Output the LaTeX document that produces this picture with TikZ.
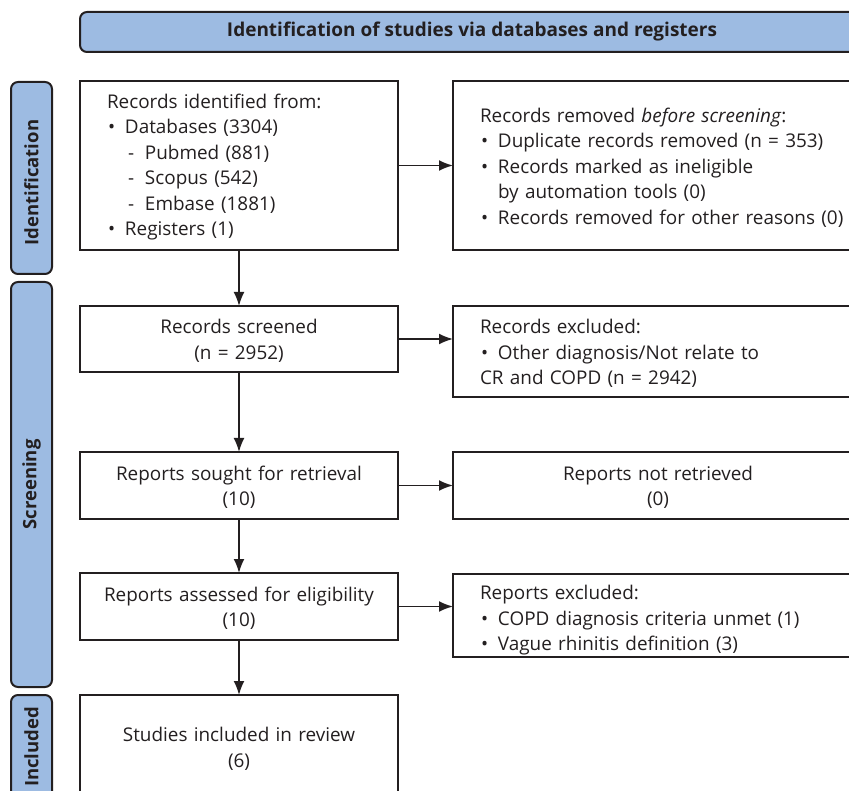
\documentclass[tikz,border=0pt]{standalone}
\usepackage{fontspec}
\setmainfont{Open Sans}
\usetikzlibrary{arrows.meta}
\definecolor{barblue}{HTML}{9DBBE2}
\definecolor{lineg}{HTML}{231F20}
\newcommand{\bul}{\makebox[18pt][l]{\hspace{1pt}•}}
\newcommand{\subi}{\makebox[38pt][l]{\hspace{21pt}-}}
\newcommand{\bind}{\hspace{18pt}}
\begin{document}
\begin{tikzpicture}[x=1pt,y=-1pt,
  banner/.style={draw=lineg, fill=barblue, line width=2pt, rounded corners=7pt, outer sep=0pt, inner sep=0pt},
  box/.style={draw=lineg, line width=1.8pt, inner ysep=0pt, outer sep=0pt, anchor=north west, text=lineg,
    font=\fontsize{18.9}{25.5}\selectfont},
  lbox/.style={box, minimum width=318, text width=304, inner xsep=7, align=center},
  lboxl/.style={box, minimum width=318, text width=264, inner xsep=27, align=left},
  rbox/.style={box, minimum width=410, text width=390, inner xsep=27, align=left},
  rboxc/.style={box, minimum width=410, text width=356, inner xsep=27, align=center},
  side/.style={banner, minimum width=41, anchor=north west},
  sidetext/.style={rotate=90, font=\bfseries\fontsize{18.5}{20}\selectfont, text=lineg},
  arr/.style={-{Latex[length=14pt,width=11pt]}, line width=1.8pt, draw=lineg}]
\useasboundingbox (0,0) rectangle (849,791);
\clip (0,0) rectangle (849,791);

% top banner
\node[banner, anchor=north west, minimum width=784, minimum height=40, text=lineg,
  font=\bfseries\fontsize{19}{20}\selectfont] (top) at (80,12) {Identification of studies via databases and registers};

% side bars
\node[side, minimum height=192] (sid) at (11,82) {};
\node[sidetext] (sidt) at ([yshift=-4.5]sid.center) {Identification};
\node[side, minimum height=405] (sscr) at (11,282) {};
\node[sidetext] (sscrt) at (sscr.center) {Screening};
\node[side, minimum height=106] (sinc) at (11,695) {};
\node[sidetext] (sinct) at ([yshift=1]sinc.center) {Included};

% left boxes
\node[lboxl, minimum height=169] (idf) at (80,81) {\rule{0pt}{18pt}Records identified from:\\
\bul Databases (3304)\\
\subi Pubmed (881)\\
\subi Scopus (542)\\
\subi Embase (1881)\\
\bul Registers (1)};
\node[lbox, minimum height=66] (scr) at (80,306) {\rule{0pt}{18pt}Records screened\\(n = 2952)};
\node[lbox, minimum height=67] (sou) at (80,452) {\rule{0pt}{18pt}Reports sought for retrieval\\(10)};
\node[lbox, minimum height=67] (ass) at (80,573) {\rule{0pt}{18pt}Reports assessed for eligibility\\(10)};
\node[lbox, minimum height=104] (inc) at (80,695) {\rule{0pt}{18pt}Studies included in review\\(6)};

% right boxes
\node[rbox, minimum height=169] (rem) at (453,81) {\rule{0pt}{18pt}Records removed \textit{before screening}:\\
\bul Duplicate records removed (n = 353)\\
\bul Records marked as ineligible\\
\bind by automation tools (0)\\
\bul Records removed for other reasons (0)};
\node[rbox, minimum height=91] (exc) at (453,306) {\rule{0pt}{18pt}Records excluded:\\
\bul Other diagnosis/Not relate to\\
CR and COPD (n = 2942)};
\node[rboxc, minimum height=67] (nret) at (453,452) {\rule{0pt}{18pt}Reports not retrieved\\(0)};
\node[rbox, minimum height=83] (rexc) at (453,574) {\rule{0pt}{24pt}Reports excluded:\\
\bul COPD diagnosis criteria unmet (1)\\
\bul Vague rhinitis definition (3)};

% arrows
\draw[arr] (idf) -- (scr);
\draw[arr] (scr) -- (sou);
\draw[arr] (sou) -- (ass);
\draw[arr] (ass) -- (inc);
\draw[arr] (idf.east) -- (idf.east -| rem.west);
\draw[arr] (scr.east) -- (scr.east -| exc.west);
\draw[arr] (sou.east) -- (sou.east -| nret.west);
\draw[arr] (ass.east) -- (ass.east -| rexc.west);
\end{tikzpicture}
\end{document}
